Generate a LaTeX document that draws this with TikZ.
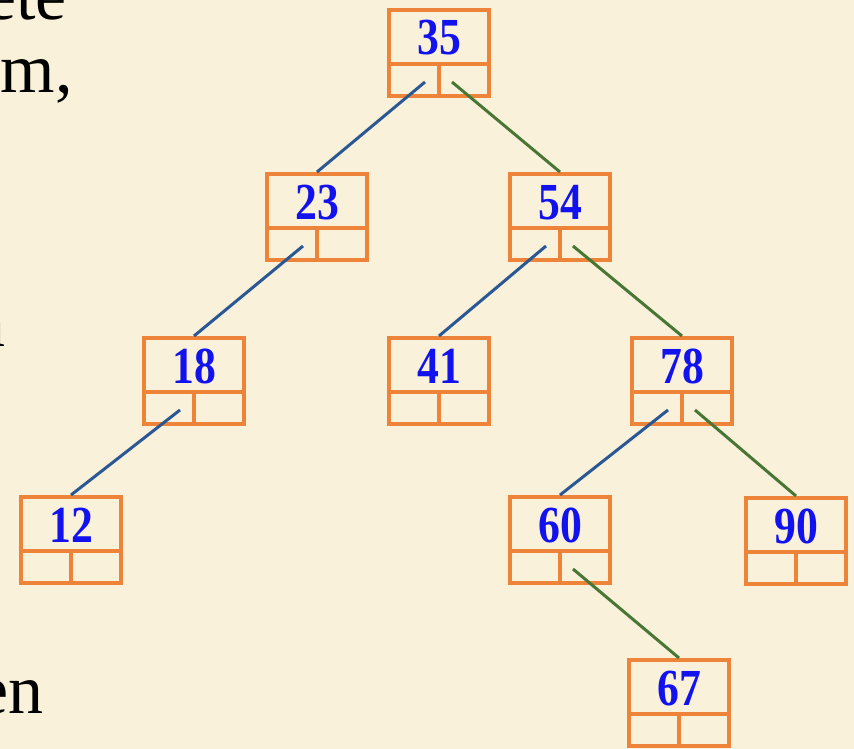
\documentclass[tikz,border=0pt]{standalone}
\usepackage{fontspec}
\setmainfont{Liberation Serif}
\usetikzlibrary{calc}
\definecolor{parchment}{RGB}{250,241,219}
\definecolor{boxorange}{RGB}{238,132,58}
\definecolor{keyblue}{RGB}{18,18,238}
\definecolor{leftline}{RGB}{42,88,148}
\definecolor{rightline}{RGB}{72,118,52}

\begin{document}
\begin{tikzpicture}[x=1pt, y=-1pt,
  keybox/.style={draw=boxorange, line width=4pt, minimum width=100pt, minimum height=86pt, inner sep=0pt},
  keytext/.style={text=keyblue, anchor=base, inner sep=0pt, font=\fontsize{52}{52}\selectfont\bfseries},
  leftedge/.style={leftline, line width=3pt},
  rightedge/.style={rightline, line width=3pt},
  slidetext/.style={anchor=base east, inner sep=0pt, font=\fontsize{70}{70}\selectfont}]
  \useasboundingbox (0,0) rectangle (854,749);
  \fill[parchment] (0,0) rectangle (854,749);
  \clip (0,0) rectangle (854,749);

  % cut-off slide text on the left
  \node[slidetext] (t1) at (67,20) {ete};
  \node[slidetext] (t2) at (73,93) {m,};
  \node[slidetext] (t3) at (6,346) {n};
  \node[slidetext] (t4) at (44,713) {en};

  % tree nodes: key on top, two link cells below
  \foreach \name/\px/\py in {35/439/53, 23/317/217, 54/560/217, 18/194/381, 41/439/381,
      78/682/381, 12/71/540, 60/560/540, 90/796/541, 67/679/703} {
    \node[keybox] (n\name) at (\px,\py) {};
    \node[keytext] (k\name) at ($(n\name.north)+(0,47)$) {\scalebox{0.84}[1]{\name}};
    \draw[boxorange, line width=4pt] ($(n\name.west)+(2,11)$) -- ($(n\name.east)+(-2,11)$);
    \draw[boxorange, line width=4pt] ($(n\name.center)+(0,11)$) -- ($(n\name.south)+(0,-2)$);
  }

  % left links
  \draw[leftedge] ($(n35.south)+(-14,-16)$) -- (n23.north);
  \draw[leftedge] ($(n23.south)+(-14,-16)$) -- (n18.north);
  \draw[leftedge] ($(n54.south)+(-14,-16)$) -- (n41.north);
  \draw[leftedge] ($(n18.south)+(-14,-16)$) -- (n12.north);
  \draw[leftedge] ($(n78.south)+(-14,-16)$) -- (n60.north);
  % right links
  \draw[rightedge] ($(n35.south)+(13,-16)$) -- (n54.north);
  \draw[rightedge] ($(n54.south)+(13,-16)$) -- (n78.north);
  \draw[rightedge] ($(n78.south)+(13,-16)$) -- (n90.north);
  \draw[rightedge] ($(n60.south)+(13,-16)$) -- (n67.north);
\end{tikzpicture}
\end{document}
